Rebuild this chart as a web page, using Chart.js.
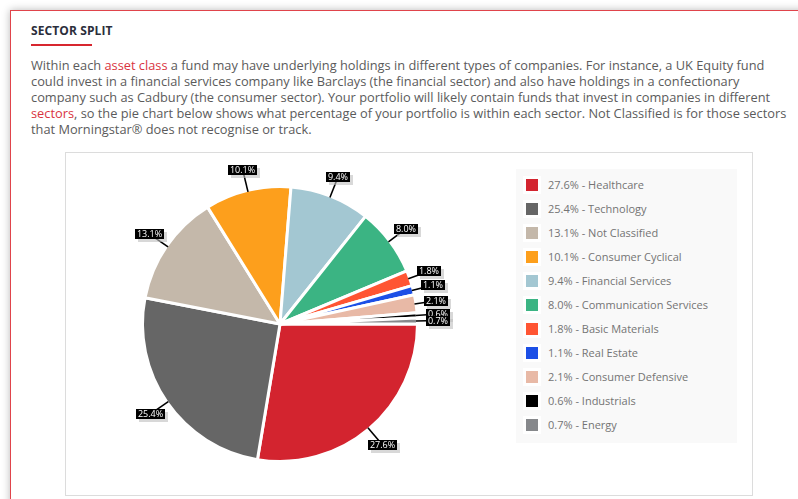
<!DOCTYPE html>
<html>
<head>
<meta charset="utf-8">
<script src="https://cdn.jsdelivr.net/npm/chart.js@4.4.1/dist/chart.umd.min.js"></script>
<style>
  html, body { margin: 0; padding: 0; background: #fff; width: 798px; height: 499px; overflow: hidden; position: relative; font-family: "Open Sans", sans-serif; }
  #card { position: absolute; left: 10px; top: 10px; width: 840px; height: 600px; border: 1px solid #e0444b; box-shadow: 0 0 8px rgba(0,0,0,0.28); background: #fff; }
  #title { position: absolute; left: 31px; top: 23px; font-size: 12px; line-height: 16px; font-weight: 700; color: #2b2e3b; letter-spacing: 0.1px; }
  #rule { position: absolute; left: 31px; top: 44px; width: 61px; height: 2px; background: #d7262f; }
  #para { position: absolute; left: 31px; top: 57px; font-size: 12.8px; line-height: 16px; color: #5b5b5b; white-space: nowrap; }
  #para a { color: #d9343f; text-decoration: none; }
  #box { position: absolute; left: 65px; top: 152px; width: 688px; height: 344px; border: 1px solid #dcdcdc; box-sizing: border-box; }
  #pie { position: absolute; left: 66px; top: 153px; }
  #legend { position: absolute; left: 516px; top: 169px; width: 221px; height: 274px; background: #f9f9f9; }
  .item { position: absolute; left: 0; height: 24px; line-height: 24px; font-size: 11px; color: #747474; white-space: nowrap; }
  .sw { position: absolute; left: 7px; top: 3px; width: 12px; height: 12px; border: 3px solid #fff; }
  .lt { position: absolute; left: 32px; top: 0; }
</style>
</head>
<body>
<div id="card"></div>
<div id="title">SECTOR SPLIT</div>
<div id="rule"></div>
<div id="para">Within each <a>asset class</a> a fund may have underlying holdings in different types of companies. For instance, a UK Equity fund<br>could invest in a financial services company like Barclays (the financial sector) and also have holdings in a confectionary<br>company such as Cadbury (the consumer sector). Your portfolio will likely contain funds that invest in companies in different<br><a>sectors</a>, so the pie chart below shows what percentage of your portfolio is within each sector. Not Classified is for those sectors<br>that Morningstar® does not recognise or track.</div>
<div id="box"></div>
<canvas id="pie" width="440" height="342"></canvas>
<div id="legend"></div>
<script>
const sectors = ["Healthcare", "Technology", "Not Classified", "Consumer Cyclical", "Financial Services", "Communication Services", "Basic Materials", "Real Estate", "Consumer Defensive", "Industrials", "Energy"];
const percentages = [27.6, 25.4, 13.1, 10.1, 9.4, 8.0, 1.8, 1.1, 2.1, 0.6, 0.7];
const sliceColors = ["#d3242f", "#666666", "#c4b8aa", "#fd9f1c", "#a3c7d2", "#3bb483", "#ff5533", "#1c4fe6", "#e8b9a6", "#000000", "#86888b"];

// legend built from the data arrays
const legend = document.getElementById('legend');
sectors.forEach((name, i) => {
  const row = document.createElement('div');
  row.className = 'item';
  row.style.top = (4 + i * 24) + 'px';
  const sw = document.createElement('div');
  sw.className = 'sw';
  sw.style.background = sliceColors[i];
  const t = document.createElement('div');
  t.className = 'lt';
  t.textContent = percentages[i].toFixed(1) + '% - ' + name;
  row.appendChild(sw); row.appendChild(t);
  legend.appendChild(row);
});

const calloutLabels = {
  id: 'calloutLabels',
  afterDatasetsDraw(chart) {
    const ctx = chart.ctx;
    const meta = chart.getDatasetMeta(0);
    const items = [];
    const font = '9px "Open Sans", sans-serif';
    meta.data.forEach((arc, i) => {
      const p = arc.getProps(['x', 'y', 'startAngle', 'endAngle', 'outerRadius'], true);
      const mid = (p.startAngle + p.endAngle) / 2;
      const c = Math.cos(mid), s = Math.sin(mid);
      const lr = p.outerRadius + 20.5;
      const text = percentages[i].toFixed(1) + '%';
      ctx.font = font;
      const w = Math.round(ctx.measureText(text).width) + 4;
      const h = 10;
      const cx = p.x + c * lr, cy = p.y + s * lr;
      items.push({ text, w, h, cx, cy, x0: p.x + c * (p.outerRadius - 1.5), y0: p.y + s * (p.outerRadius - 1.5) });
    });
    ctx.save();
    items.forEach(it => {
      ctx.strokeStyle = '#000';
      ctx.lineWidth = 1.6;
      ctx.beginPath();
      ctx.moveTo(it.x0, it.y0);
      ctx.lineTo(it.cx, it.cy);
      ctx.stroke();
      const bx = Math.round(it.cx - it.w / 2), by = Math.round(it.cy - it.h / 2);
      ctx.fillStyle = 'rgba(190,190,190,0.6)';
      ctx.fillRect(bx + 3, by + 3, it.w, it.h);
      ctx.fillStyle = '#000';
      ctx.fillRect(bx, by, it.w, it.h);
      ctx.fillStyle = '#fff';
      ctx.font = font;
      ctx.textAlign = 'center';
      ctx.textBaseline = 'middle';
      ctx.fillText(it.text, bx + it.w / 2, by + it.h / 2 + 0.5);
    });
    ctx.restore();
  }
};

new Chart(document.getElementById('pie'), {
  type: 'pie',
  data: {
    labels: sectors,
    datasets: [{
      data: percentages,
      backgroundColor: sliceColors,
      borderColor: '#ffffff',
      borderWidth: 3,
      hoverBorderWidth: 3,
      hoverOffset: 0
    }]
  },
  options: {
    responsive: false,
    animation: false,
    events: [],
    rotation: 90,
    layout: { padding: { left: 75, right: 87, top: 32, bottom: 32 } },
    plugins: { legend: { display: false }, tooltip: { enabled: false } }
  },
  plugins: [calloutLabels]
});
</script>
</body>
</html>
